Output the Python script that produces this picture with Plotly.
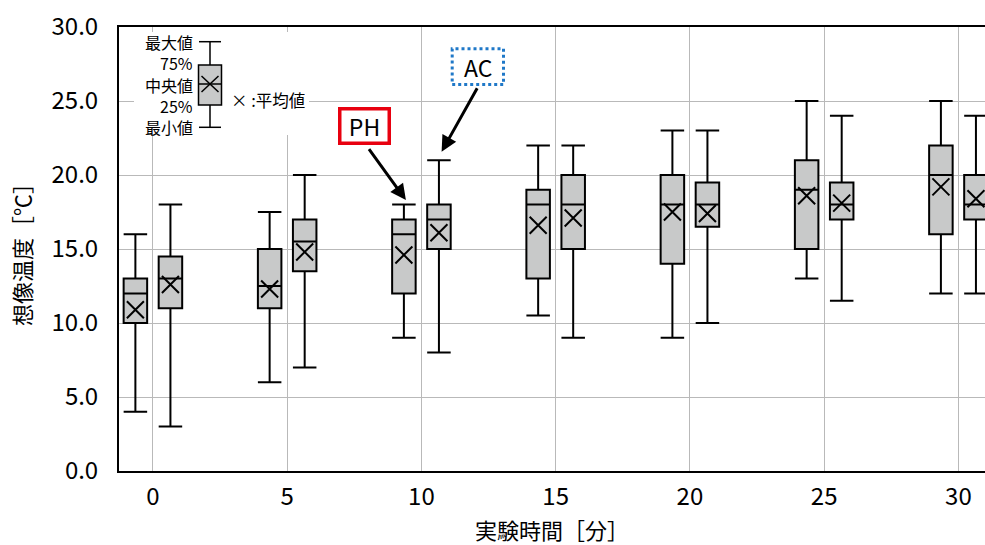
import plotly.graph_objects as go

# ---------------- data ----------------
times = [0, 5, 10, 15, 20, 25, 30]

ph_max = [16.0, 17.5, 18.0, 22.0, 23.0, 25.0, 25.0]
ph_q3 = [13.0, 15.0, 17.0, 19.0, 20.0, 21.0, 22.0]
ph_med = [12.0, 12.5, 16.0, 18.0, 18.0, 19.0, 20.0]
ph_q1 = [10.0, 11.0, 12.0, 13.0, 14.0, 15.0, 16.0]
ph_min = [4.0, 6.0, 9.0, 10.5, 9.0, 13.0, 12.0]
ph_mean = [10.9, 12.3, 14.6, 16.6, 17.5, 18.6, 19.2]

ac_max = [18.0, 20.0, 21.0, 22.0, 23.0, 24.0, 24.0]
ac_q3 = [14.5, 17.0, 18.0, 20.0, 19.5, 19.5, 20.0]
ac_med = [13.0, 15.5, 17.0, 18.0, 18.0, 18.0, 18.0]
ac_q1 = [11.0, 13.5, 15.0, 15.0, 16.5, 17.0, 17.0]
ac_min = [3.0, 7.0, 8.0, 9.0, 10.0, 11.5, 12.0]
ac_mean = [12.6, 14.8, 16.1, 17.1, 17.4, 18.1, 18.4]

x_title = "実験時間［分］"
y_title = "想像温度［℃］"
legend_labels = ["最大値", "75%", "中央値", "25%", "最小値"]
mean_label = "× :平均値"

# ---------------- style ----------------
FONT = "Noto Sans CJK JP"
BOX_FILL = "#c8c9c9"
W, H = 985, 545
ML, MR, MT, MB = 119, 0, 27, 74
PW, PH_ = W - ML - MR, H - MT - MB


def px(x):
    return (x - ML) / PW


def py(y):
    return (H - MB - y) / PH_


fig = go.Figure()

for name, q1, med, q3, lo, hi in [
    ("PH", ph_q1, ph_med, ph_q3, ph_min, ph_max),
    ("AC", ac_q1, ac_med, ac_q3, ac_min, ac_max),
]:
    fig.add_trace(go.Box(
        name=name, x=times, q1=q1, median=med, q3=q3,
        lowerfence=lo, upperfence=hi,
        offsetgroup=name, alignmentgroup="g",
        fillcolor=BOX_FILL, line=dict(color="black", width=2),
        whiskerwidth=1, boxpoints=False, showlegend=False,
    ))

for name, mean in [("PH", ph_mean), ("AC", ac_mean)]:
    fig.add_trace(go.Scatter(
        name=name + " mean", x=times, y=mean, mode="markers",
        offsetgroup=name, alignmentgroup="g",
        marker=dict(symbol="x-thin", size=17, color="black",
                    line=dict(color="black", width=2)),
        showlegend=False,
    ))

shapes = []
# legend backdrop
shapes.append(dict(type="rect", xref="paper", yref="paper",
                   x0=px(134), x1=px(309), y0=py(135), y1=py(32),
                   fillcolor="white", line=dict(width=0), layer="above"))
lw = 1.5
cx = 210
# whisker
shapes.append(dict(type="line", xref="paper", yref="paper",
                   x0=px(cx), x1=px(cx), y0=py(41.7), y1=py(127.3),
                   line=dict(color="black", width=lw), layer="above"))
for yy in (41.7, 127.3):
    shapes.append(dict(type="line", xref="paper", yref="paper",
                       x0=px(199), x1=px(221), y0=py(yy), y1=py(yy),
                       line=dict(color="black", width=lw), layer="above"))
shapes.append(dict(type="rect", xref="paper", yref="paper",
                   x0=px(198.5), x1=px(221.5), y0=py(105), y1=py(65),
                   fillcolor=BOX_FILL, line=dict(color="black", width=lw),
                   layer="above"))
shapes.append(dict(type="line", xref="paper", yref="paper",
                   x0=px(198.5), x1=px(221.5), y0=py(84), y1=py(84),
                   line=dict(color="black", width=lw), layer="above"))
for a, b in ((-8, 8), (8, -8)):
    shapes.append(dict(type="line", xref="paper", yref="paper",
                       x0=px(cx - 8.5), x1=px(cx + 8.5), y0=py(84 + a), y1=py(84 + b),
                       line=dict(color="black", width=lw), layer="above"))
# AC dotted frame
shapes.append(dict(type="rect", xref="paper", yref="paper",
                   x0=px(452.2), x1=px(503.5), y0=py(84.5), y1=py(48.8),
                   fillcolor="white", line=dict(color="#1f78c8", width=3, dash="dot"),
                   layer="above"))

annotations = []
for lab, yy in zip(legend_labels, [41.7, 62.8, 85, 106.2, 126.5]):
    annotations.append(dict(text=lab, xref="paper", yref="paper", x=px(195), y=py(yy),
                            xanchor="right", yanchor="middle", showarrow=False,
                            height=18, valign="middle",
                            font=dict(family=FONT, size=16, color="black")))
annotations.append(dict(text=mean_label, xref="paper", yref="paper", x=px(229), y=py(100),
                        xanchor="left", yanchor="middle", showarrow=False,
                        height=18, valign="middle",
                        font=dict(family=FONT, size=16.5, color="black")))

# arrows
annotations.append(dict(text="", x=10, y=ph_max[2], xref="x", yref="y",
                        xshift=-15.5, yshift=4.5, ax=-38, ay=-52.5,
                        showarrow=True, arrowhead=2, arrowsize=1.05, arrowwidth=3,
                        arrowcolor="black"))
annotations.append(dict(text="", x=10, y=ac_max[2], xref="x", yref="y",
                        xshift=20.2, yshift=8.5, ax=36.4, ay=-65,
                        showarrow=True, arrowhead=2, arrowsize=1.05, arrowwidth=3,
                        arrowcolor="black"))
# labels
annotations.append(dict(text="PH", xref="paper", yref="paper", x=px(364.5), y=py(126),
                        xanchor="center", yanchor="middle", showarrow=False,
                        width=46, height=31, borderpad=0, borderwidth=3.5,
                        bordercolor="#e8000f", bgcolor="white",
                        font=dict(family=FONT, size=23, color="black")))
annotations.append(dict(text="AC", xref="paper", yref="paper", x=px(477.8), y=py(66.6),
                        xanchor="center", yanchor="middle", showarrow=False,
                        font=dict(family=FONT, size=23, color="black")))

fig.update_layout(
    width=W, height=H,
    margin=dict(l=ML, r=MR, t=MT, b=MB),
    paper_bgcolor="white", plot_bgcolor="white",
    boxmode="group", boxgap=0.478, boxgroupgap=0.329,
    scattermode="group", scattergap=0.478,
    showlegend=False,
    font=dict(family=FONT, color="black"),
    shapes=shapes, annotations=annotations,
)
fig.update_xaxes(
    range=[-1.263, 30.99], tickvals=times, ticktext=[str(t) for t in times],
    showgrid=True, gridcolor="#b9b9b9", gridwidth=1, zeroline=False,
    showline=True, linecolor="black", linewidth=2, mirror=True,
    ticks="", ticklabelstandoff=3, automargin=False,
    tickfont=dict(family=FONT, size=24, color="black"),
    title=dict(text=x_title, font=dict(family=FONT, size=22, color="black"), standoff=14),
)
fig.update_yaxes(
    range=[0, 30], dtick=5, tick0=0, tickformat=".1f",
    showgrid=True, gridcolor="#b9b9b9", gridwidth=1, zeroline=False,
    showline=True, linecolor="black", linewidth=2, mirror=False,
    ticks="", ticklabelstandoff=14, automargin=False,
    tickfont=dict(family=FONT, size=24, color="black"),
    title=dict(text=y_title, font=dict(family=FONT, size=22, color="black"), standoff=14),
)

fig.write_html("out.html")
